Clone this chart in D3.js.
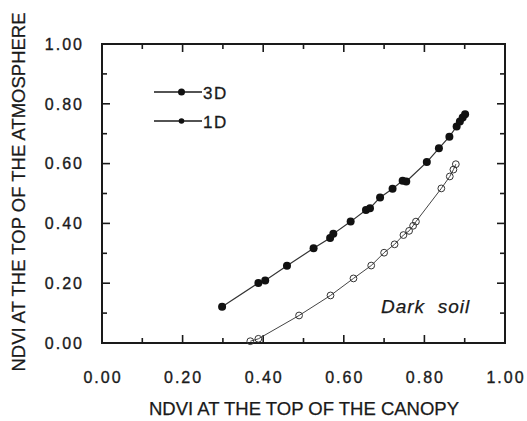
<!DOCTYPE html>
<html><head><meta charset="utf-8">
<script src="https://cdn.jsdelivr.net/npm/d3@7"></script>
<style>
html,body{margin:0;padding:0;background:#fff;}
svg{display:block;font-family:"Liberation Sans",Arial,Helvetica,sans-serif;}
</style></head>
<body>
<script>
// ---- data ----
const x3D = [0.298, 0.388, 0.405, 0.459, 0.525, 0.566, 0.574, 0.617, 0.655, 0.665, 0.690, 0.721, 0.746, 0.755, 0.806, 0.836, 0.862, 0.880, 0.888, 0.895, 0.901];
const y3D = [0.121, 0.201, 0.209, 0.258, 0.317, 0.351, 0.365, 0.406, 0.445, 0.451, 0.487, 0.516, 0.543, 0.540, 0.605, 0.651, 0.690, 0.724, 0.741, 0.754, 0.765];
const x1D = [0.368, 0.388, 0.489, 0.567, 0.624, 0.668, 0.700, 0.726, 0.748, 0.762, 0.772, 0.779, 0.842, 0.863, 0.872, 0.878];
const y1D = [0.006, 0.014, 0.092, 0.159, 0.216, 0.259, 0.302, 0.330, 0.361, 0.375, 0.392, 0.406, 0.517, 0.557, 0.580, 0.598];
const majorTicks = [0, 0.2, 0.4, 0.6, 0.8, 1.0];
const minorTicks = [0.1, 0.3, 0.5, 0.7, 0.9];
const tickLabels = ["0.00", "0.20", "0.40", "0.60", "0.80", "1.00"];
const seriesNames = ["3D", "1D"];
const xTitle = "NDVI AT THE TOP OF THE CANOPY";
const yTitle = "NDVI AT THE TOP OF THE ATMOSPHERE";
const annotation = "Dark  soil";

// ---- layout ----
const W = 527, H = 421;
const L = 102, R = 505, T = 44, B = 343;
const svg = d3.select("body").append("svg").attr("width", W).attr("height", H);
const x = d3.scaleLinear().domain([0, 1]).range([L, R]);
const y = d3.scaleLinear().domain([0, 1]).range([B, T]);
const ink = "#1a1a1a";

// frame
svg.append("rect").attr("x", L).attr("y", T).attr("width", R - L).attr("height", B - T)
  .attr("fill", "none").attr("stroke", ink).attr("stroke-width", 2);

// inward ticks, all four sides
function ticks(vals, len) {
  vals.forEach(v => {
    const px = x(v), py = y(v);
    svg.append("line").attr("x1", px).attr("x2", px).attr("y1", B).attr("y2", B - len).attr("stroke", ink).attr("stroke-width", 1.6);
    svg.append("line").attr("x1", px).attr("x2", px).attr("y1", T).attr("y2", T + len).attr("stroke", ink).attr("stroke-width", 1.6);
    svg.append("line").attr("y1", py).attr("y2", py).attr("x1", L).attr("x2", L + len).attr("stroke", ink).attr("stroke-width", 1.6);
    svg.append("line").attr("y1", py).attr("y2", py).attr("x1", R).attr("x2", R - len).attr("stroke", ink).attr("stroke-width", 1.6);
  });
}
ticks(majorTicks.slice(1, -1), 8);
ticks(minorTicks, 5);

// tick labels
svg.append("g").selectAll("text").data(majorTicks).join("text")
  .attr("x", d => x(d) + 1).attr("y", 383).attr("text-anchor", "middle")
  .attr("font-size", 16).attr("letter-spacing", 2).attr("fill", ink)
  .attr("stroke", ink).attr("stroke-width", 0.35)
  .text((d, i) => tickLabels[i]);
svg.append("g").selectAll("text").data(majorTicks).join("text")
  .attr("x", 84).attr("y", d => y(d)).attr("dy", "0.36em").attr("text-anchor", "end")
  .attr("font-size", 16).attr("letter-spacing", 2).attr("fill", ink)
  .attr("stroke", ink).attr("stroke-width", 0.35)
  .text((d, i) => tickLabels[i]);

// axis titles
svg.append("text").attr("x", 304).attr("y", 415).attr("text-anchor", "middle")
  .attr("font-size", 18.5).attr("fill", ink).attr("stroke", ink).attr("stroke-width", 0.25).text(xTitle);
svg.append("text").attr("transform", "translate(25,192) rotate(-90)").attr("text-anchor", "middle")
  .attr("font-size", 18.5).attr("fill", ink).attr("stroke", ink).attr("stroke-width", 0.25).text(yTitle);

// series
const d3D = x3D.map((v, i) => [v, y3D[i]]);
const d1D = x1D.map((v, i) => [v, y1D[i]]);
const line = d3.line().x(d => x(d[0])).y(d => y(d[1]));
svg.append("path").attr("d", line(d3D)).attr("fill", "none").attr("stroke", "#333").attr("stroke-width", 1.2);
svg.append("path").attr("d", line(d1D)).attr("fill", "none").attr("stroke", "#444").attr("stroke-width", 1);
svg.append("g").selectAll("circle").data(d3D).join("circle")
  .attr("cx", d => x(d[0])).attr("cy", d => y(d[1])).attr("r", 4).attr("fill", "#111");
svg.append("g").selectAll("circle").data(d1D).join("circle")
  .attr("cx", d => x(d[0])).attr("cy", d => y(d[1])).attr("r", 3.4)
  .attr("fill", "none").attr("stroke", "#333").attr("stroke-width", 1);

// legend
const legY = [92, 121], legR = [3.5, 2.8];
seriesNames.forEach((n, i) => {
  svg.append("line").attr("x1", 154).attr("x2", 202).attr("y1", legY[i]).attr("y2", legY[i])
    .attr("stroke", ink).attr("stroke-width", 1.5);
  svg.append("circle").attr("cx", 181.5).attr("cy", legY[i]).attr("r", legR[i]).attr("fill", "#111");
  svg.append("text").attr("x", 203).attr("y", legY[i] + 6.5).attr("font-size", 17)
    .attr("letter-spacing", 1.5).attr("fill", ink).attr("stroke", ink).attr("stroke-width", 0.3).text(n);
});

// annotation
svg.append("text").attr("x", 381).attr("y", 313).attr("font-size", 19).attr("font-style", "italic")
  .attr("letter-spacing", 1).style("white-space", "pre").attr("fill", ink)
  .attr("stroke", ink).attr("stroke-width", 0.25).text(annotation);
</script>
</body></html>
